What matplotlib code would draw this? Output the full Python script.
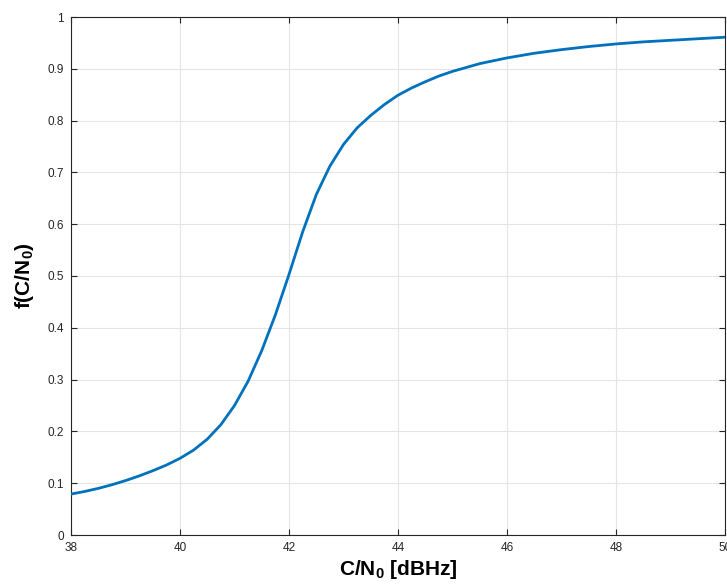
import matplotlib
matplotlib.use("Agg")
import matplotlib.pyplot as plt

# Values (C/N0 in dBHz, f(C/N0))
cn0 = [38.0, 38.25, 38.5, 38.75, 39.0, 39.25, 39.5, 39.75,
       40.0, 40.25, 40.5, 40.75, 41.0, 41.25, 41.5, 41.75,
       42.0, 42.25, 42.5, 42.75, 43.0, 43.25, 43.5, 43.75,
       44.0, 44.25, 44.5, 44.75, 45.0, 45.5, 46.0, 46.5,
       47.0, 47.5, 48.0, 48.5, 49.0, 49.5, 50.0]
f_val = [0.079, 0.084, 0.090, 0.097, 0.105, 0.114, 0.124, 0.135,
         0.148, 0.164, 0.185, 0.213, 0.250, 0.297, 0.356, 0.425,
         0.503, 0.585, 0.657, 0.712, 0.754, 0.786, 0.810, 0.831,
         0.849, 0.863, 0.875, 0.886, 0.895, 0.910, 0.921, 0.930,
         0.937, 0.943, 0.948, 0.952, 0.955, 0.958, 0.961]
x_ticks = [38, 40, 42, 44, 46, 48, 50]
y_ticks = [0, 0.1, 0.2, 0.3, 0.4, 0.5, 0.6, 0.7, 0.8, 0.9, 1]
y_tick_labels = ["0", "0.1", "0.2", "0.3", "0.4", "0.5", "0.6", "0.7", "0.8", "0.9", "1"]

plt.rcParams['font.family'] = ['Liberation Sans', 'DejaVu Sans']
plt.rcParams['mathtext.fontset'] = 'custom'
plt.rcParams['mathtext.rm'] = 'Liberation Sans:bold'
plt.rcParams['mathtext.it'] = 'Liberation Sans:bold'
plt.rcParams['mathtext.bf'] = 'Liberation Sans:bold'

fig = plt.figure(figsize=(7.27, 5.85), dpi=100)
ax = fig.add_axes([71 / 727, 50 / 585, (725 - 71) / 727, (535 - 17) / 585])

ax.plot(cn0, f_val, color='#0072BD', linewidth=2.0, solid_capstyle='round',
        solid_joinstyle='round', zorder=3)

ax.set_xlim(38, 50)
ax.set_ylim(0, 1)
ax.set_xticks(x_ticks)
ax.set_xticklabels([str(t) for t in x_ticks])
ax.set_yticks(y_ticks)
ax.set_yticklabels(y_tick_labels)

ax.grid(True, color='#e5e5e5', linewidth=0.8)
ax.set_axisbelow(True)

for s in ax.spines.values():
    s.set_color('#262626')
    s.set_linewidth(0.8)

ax.tick_params(direction='in', length=4.5, width=0.8, colors='#262626',
               labelsize=8.5, top=True, right=True, pad=5)

ax.set_xlabel(r'C/N$_0$ [dBHz]', fontsize=15, fontweight='bold', labelpad=3)
ax.set_ylabel(r'f(C/N$_0$)', fontsize=15, fontweight='bold', labelpad=8)

fig.savefig('out.png', dpi=100)
